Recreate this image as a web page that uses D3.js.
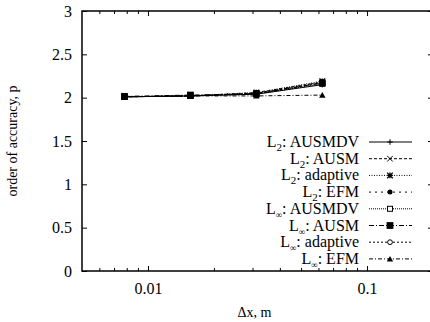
<!DOCTYPE html>
<html>
<head>
<meta charset="utf-8">
<script src="https://cdn.jsdelivr.net/npm/d3@7"></script>
<style>
  body { margin: 0; background: #fff; }
  svg text { font-family: "Liberation Serif", "Times New Roman", serif; fill: #000; }
</style>
</head>
<body>
<div id="chart"></div>
<script>
// grid spacings (m) and orders of accuracy
const dx = [0.0078125, 0.015625, 0.03125, 0.0625];
const seriesNames = ["L2: AUSMDV", "L2: AUSM", "L2: adaptive", "L2: EFM",
  "L∞: AUSMDV", "L∞: AUSM", "L∞: adaptive", "L∞: EFM"];
const l2Ausmdv = [2.01, 2.02, 2.04, 2.15];
const l2Ausm = [2.01, 2.02, 2.05, 2.17];
const l2Adaptive = [2.01, 2.02, 2.06, 2.19];
const l2Efm = [2.01, 2.02, 2.06, 2.18];
const lInfAusmdv = [2.01, 2.02, 2.04, 2.16];
const lInfAusm = [2.015, 2.03, 2.045, 2.17];
const lInfAdaptive = [2.01, 2.02, 2.05, 2.18];
const lInfEfm = [2.01, 2.02, 2.02, 2.03];
const yTicks = [0, 0.5, 1, 1.5, 2, 2.5, 3];
const xMajor = [0.01, 0.1];
const xMinor = [0.006, 0.007, 0.008, 0.009, 0.02, 0.03, 0.04, 0.05, 0.06, 0.07, 0.08, 0.09];

const values = [l2Ausmdv, l2Ausm, l2Adaptive, l2Efm, lInfAusmdv, lInfAusm, lInfAdaptive, lInfEfm];
// line style and marker per series
const dashes = [null, "3,2", "1,1.5", "2,4", "1,1", "5,2,1,2", "2,2", "4,2,1,2"];
const markers = ["plus", "cross", "star", "dot", "square", "fsquare", "circle", "triangle"];
// the filled squares sit on top of the cluster in the picture
const drawOrder = [0, 1, 2, 3, 4, 6, 7, 5];

const margin = { top: 11, right: -3, bottom: 51, left: 82 },
  width = 430 - margin.left - margin.right,
  height = 322 - margin.top - margin.bottom;

const svg = d3.select("#chart").append("svg")
  .attr("width", 430).attr("height", 322)
  .append("g")
  .attr("transform", `translate(${margin.left},${margin.top})`);

const x = d3.scaleLog().domain([0.005, 0.2]).range([0, width]);
const y = d3.scaleLinear().domain([0, 3]).range([height, 0]);

// axes, ticks pointing inwards
const xTicks = xMajor.concat(xMinor);
const isMajor = (d) => xMajor.includes(d);

const gx = svg.append("g").attr("transform", `translate(0,${height})`)
  .call(d3.axisBottom(x).tickValues(xTicks).tickSize(-5).tickPadding(12)
    .tickFormat((d) => (isMajor(d) ? d3.format("")(d) : "")));
const gxTop = svg.append("g")
  .call(d3.axisTop(x).tickValues(xTicks).tickSize(-5).tickFormat(""));
gx.selectAll(".tick line").filter((d) => !isMajor(d)).attr("y2", -3);
gxTop.selectAll(".tick line").filter((d) => !isMajor(d)).attr("y2", 3);

const gy = svg.append("g")
  .call(d3.axisLeft(y).tickValues(yTicks).tickSize(-5).tickPadding(10).tickFormat(d3.format("")));
const gyRight = svg.append("g").attr("transform", `translate(${width},0)`)
  .call(d3.axisRight(y).tickValues(yTicks).tickSize(-5).tickFormat(""));

svg.selectAll(".domain").remove();
[gx, gxTop, gy, gyRight].forEach((g) => g.attr("font-family", null).attr("font-size", null));
svg.selectAll(".tick line").attr("stroke", "#000").attr("stroke-width", 1);
svg.selectAll(".tick text").style("font-size", "16px");

svg.append("rect").attr("width", width).attr("height", height)
  .attr("fill", "none").attr("stroke", "#000").attr("stroke-width", 1.5);

// axis titles
svg.append("text")
  .attr("x", width / 2 - 3).attr("y", height + 46)
  .attr("text-anchor", "middle").style("font-size", "14px")
  .text("Δx, m");
svg.append("text")
  .attr("transform", `translate(${-65},${height / 2}) rotate(-90)`)
  .attr("text-anchor", "middle").style("font-size", "14px")
  .text("order of accuracy, p");

// marker drawing
function drawMarker(g, type, cx, cy) {
  const s = 2.8;
  if (type === "plus") {
    g.append("path").attr("d", `M${cx - s},${cy}H${cx + s}M${cx},${cy - s}V${cy + s}`)
      .attr("stroke", "#000").attr("fill", "none");
  } else if (type === "cross") {
    g.append("path").attr("d", `M${cx - s},${cy - s}L${cx + s},${cy + s}M${cx - s},${cy + s}L${cx + s},${cy - s}`)
      .attr("stroke", "#000").attr("fill", "none");
  } else if (type === "star") {
    g.append("path").attr("d", `M${cx - s},${cy}H${cx + s}M${cx},${cy - s}V${cy + s}M${cx - s},${cy - s}L${cx + s},${cy + s}M${cx - s},${cy + s}L${cx + s},${cy - s}`)
      .attr("stroke", "#000").attr("stroke-width", 1.3).attr("fill", "none");
  } else if (type === "dot") {
    g.append("circle").attr("cx", cx).attr("cy", cy).attr("r", 2.5).attr("fill", "#000");
  } else if (type === "square") {
    g.append("rect").attr("x", cx - 2.5).attr("y", cy - 2.5).attr("width", 5).attr("height", 5)
      .attr("fill", "#fff").attr("stroke", "#000");
  } else if (type === "fsquare") {
    g.append("rect").attr("x", cx - 3.4).attr("y", cy - 3.4).attr("width", 6.8).attr("height", 6.8)
      .attr("fill", "#000");
  } else if (type === "circle") {
    g.append("circle").attr("cx", cx).attr("cy", cy).attr("r", 2.4)
      .attr("fill", "#fff").attr("stroke", "#000");
  } else if (type === "triangle") {
    g.append("path").attr("d", `M${cx - 3.2},${cy + 2.6}L${cx + 3.2},${cy + 2.6}L${cx},${cy - 3}Z`)
      .attr("fill", "#000");
  }
}

// data lines
const line = d3.line().x((d) => x(d[0])).y((d) => y(d[1]));
const plot = svg.append("g");
drawOrder.forEach((i) => {
  const pts = dx.map((d, j) => [d, values[i][j]]);
  plot.append("path").datum(pts).attr("d", line)
    .attr("fill", "none").attr("stroke", "#000").attr("stroke-width", 1)
    .attr("stroke-dasharray", dashes[i]);
});
drawOrder.forEach((i) => {
  dx.forEach((d, j) => drawMarker(plot, markers[i], x(d), y(values[i][j])));
});

// legend
const legend = svg.append("g");
const rowY = (i) => 131 + i * 16.7;
seriesNames.forEach((name, i) => {
  const [pre, rest] = name.split(": ");
  const t = legend.append("text")
    .attr("x", 359 - margin.left).attr("y", rowY(i) + 5)
    .attr("text-anchor", "end").style("font-size", "16px");
  t.append("tspan").text(pre[0]);
  t.append("tspan").attr("dy", 4).style("font-size", pre[1] === "2" ? "11px" : "9px").text(pre.slice(1));
  t.append("tspan").attr("dy", -4).text(": " + rest);
  legend.append("line")
    .attr("x1", 369 - margin.left).attr("x2", 412 - margin.left)
    .attr("y1", rowY(i)).attr("y2", rowY(i))
    .attr("stroke", "#000").attr("stroke-width", 1)
    .attr("stroke-dasharray", dashes[i]);
  drawMarker(legend, markers[i], 390 - margin.left, rowY(i));
});
</script>
</body>
</html>
